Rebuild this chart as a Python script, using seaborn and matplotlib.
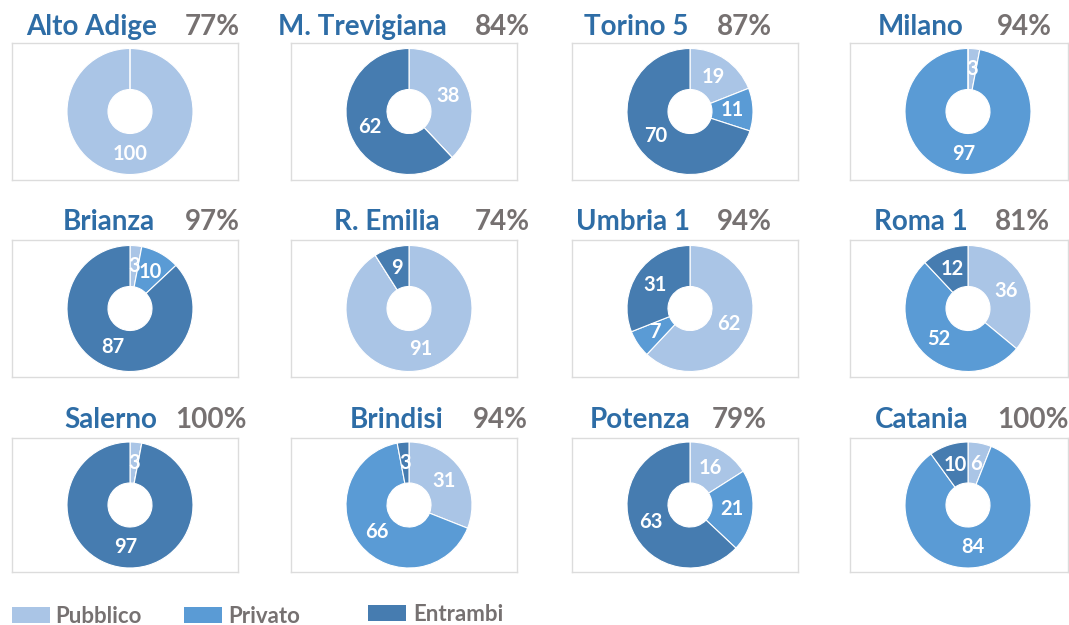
import matplotlib
matplotlib.use("Agg")
import matplotlib.pyplot as plt
import seaborn as sns
from matplotlib.patches import Rectangle

# ===== Dati =====
categorie = ['Pubblico', 'Privato', 'Entrambi']
territori = ['Alto Adige', 'M. Trevigiana', 'Torino 5', 'Milano',
             'Brianza', 'R. Emilia', 'Umbria 1', 'Roma 1',
             'Salerno', 'Brindisi', 'Potenza', 'Catania']
percentuali = [77, 84, 87, 94, 97, 74, 94, 81, 100, 94, 79, 100]
pubblico = [100, 38, 19, 3, 3, 91, 62, 36, 3, 31, 16, 6]
privato = [0, 0, 11, 97, 10, 0, 7, 52, 0, 66, 21, 84]
entrambi = [0, 62, 70, 0, 87, 9, 31, 12, 97, 3, 63, 10]

# ===== Stile =====
sns.set_theme(style="white")
plt.rcParams['font.family'] = ['Lato', 'DejaVu Sans']
colori = sns.color_palette(['#AAC5E6', '#5A9BD5', '#467CB0'])
col_titolo = '#2E6DA6'
col_grigio = '#767171'

W, H = 1069, 625
fig = plt.figure(figsize=(W / 100, H / 100), dpi=100)

# layout in pixel
box_left = [12, 291, 572, 850]
box_w = [226, 226, 226, 218]
box_top = [43, 240, 438]
box_h = [137, 137, 134]
baseline = [35, 230, 428]
titolo_dx = [157, 447, 688, 963, 155, 440, 690, 968, 157, 443, 690, 968]
perc_sx = [185, 475, 717, 997, 185, 475, 717, 995, 175, 473, 712, 997]
R = 63.0
foro = 22.0
cx_off = 118.0

for i, nome in enumerate(territori):
    r, c = divmod(i, 4)
    l, t, w, h = box_left[c], box_top[r], box_w[c], box_h[r]
    ax = fig.add_axes([l / W, 1 - (t + h) / H, w / W, h / H])
    valori = [pubblico[i], privato[i], entrambi[i]]
    ax.pie(valori, colors=colori, startangle=90, counterclock=False,
           radius=1.0,
           wedgeprops=dict(width=(R - foro) / R, edgecolor='white', linewidth=0.8),
           autopct=lambda p: f"{p:.0f}" if p > 0.5 else "",
           pctdistance=0.67,
           textprops=dict(color='white', fontsize=14.5, fontweight='bold'))
    cy_off = h / 2.0
    ax.set_axis_on()
    ax.set_frame_on(True)
    ax.set_aspect('auto')
    ax.set_xlim(-cx_off / R, (w - cx_off) / R)
    ax.set_ylim(-(h - cy_off) / R, cy_off / R)
    for s in ax.spines.values():
        s.set_visible(True)
        s.set_color('#DCDCDC')
        s.set_linewidth(1)
    ax.set_xticks([])
    ax.set_yticks([])

    yb = 1 - baseline[r] / H
    fig.text(titolo_dx[i] / W, yb, nome, ha='right', va='baseline',
             fontsize=20, fontweight='bold', color=col_titolo)
    fig.text(perc_sx[i] / W, yb, f"{percentuali[i]}%", ha='left', va='baseline',
             fontsize=20, fontweight='bold', color=col_grigio)

# ===== Legenda =====
leg_patch_x = [12, 184, 368]
leg_text_x = [55, 228, 413]
leg_y = [607, 607, 605]
for k, cat in enumerate(categorie):
    fig.patches.append(Rectangle((leg_patch_x[k] / W, 1 - (leg_y[k] + 16) / H),
                                 38 / W, 16 / H, transform=fig.transFigure,
                                 facecolor=colori[k], edgecolor='none'))
    fig.text(leg_text_x[k] / W, 1 - (leg_y[k] + 16) / H, cat, ha='left',
             va='baseline', fontsize=16, fontweight='bold', color=col_grigio)

fig.savefig("out.png", dpi=100)
